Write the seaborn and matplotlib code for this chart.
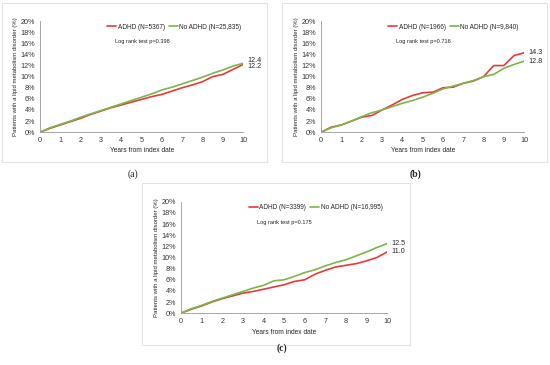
"""Cumulative incidence of lipid metabolism disorders, three cohorts."""

import matplotlib.pyplot as plt
import matplotlib.patches as mpatches
import pandas as pd
import seaborn as sns

years = [0, 0.5, 1, 1.5, 2, 2.5, 3, 3.5, 4, 4.5, 5, 5.5, 6, 6.5, 7, 7.5, 8, 8.5, 9, 9.5, 10]

adhd_a = [0, 0.7, 1.3, 1.9, 2.5, 3.2, 3.8, 4.4, 4.9, 5.4, 5.9, 6.4, 6.8, 7.4, 8.0, 8.5, 9.1, 10.0, 10.4, 11.3, 12.2]
noadhd_a = [0, 0.8, 1.4, 2.0, 2.7, 3.3, 3.9, 4.5, 5.1, 5.7, 6.3, 6.9, 7.6, 8.1, 8.7, 9.3, 9.9, 10.6, 11.2, 11.9, 12.4]

adhd_b = [0, 0.9, 1.3, 2.0, 2.7, 3.0, 4.0, 4.9, 5.9, 6.6, 7.1, 7.2, 8.0, 8.1, 8.8, 9.2, 10.0, 12.0, 12.0, 13.8, 14.3]
noadhd_b = [0, 0.8, 1.3, 2.0, 2.8, 3.5, 4.0, 4.6, 5.2, 5.7, 6.3, 7.0, 7.8, 8.3, 8.8, 9.3, 10.0, 10.4, 11.5, 12.2, 12.8]

adhd_c = [0, 0.7, 1.3, 2.0, 2.6, 3.1, 3.6, 3.9, 4.3, 4.7, 5.1, 5.7, 6.0, 7.0, 7.7, 8.3, 8.6, 8.9, 9.4, 10.0, 11.0]
noadhd_c = [0, 0.8, 1.4, 2.1, 2.7, 3.3, 3.9, 4.5, 5.0, 5.8, 6.0, 6.6, 7.3, 7.8, 8.5, 9.1, 9.6, 10.3, 11.0, 11.8, 12.5]

panels = {
    "a": dict(adhd=adhd_a, noadhd=noadhd_a, n_adhd="5367", n_no="25,835", p="0.398"),
    "b": dict(adhd=adhd_b, noadhd=noadhd_b, n_adhd="1966", n_no="9,840", p="0.716"),
    "c": dict(adhd=adhd_c, noadhd=noadhd_c, n_adhd="3399", n_no="16,995", p="0.175"),
}

RED = "#e8383d"
GREEN = "#7ab648"

sns.set_theme(style="white")
plt.rcParams["font.family"] = ["Liberation Sans", "DejaVu Sans"]

fig = plt.figure(figsize=(5.5, 3.65), dpi=100)

# panel frames and axes boxes (figure fractions)
frames = {"a": (0.004, 0.556, 0.482, 0.436),
          "b": (0.513, 0.556, 0.482, 0.436),
          "c": (0.258, 0.055, 0.487, 0.444)}
axes_pos = {"a": (0.073, 0.638, 0.369, 0.304),
            "b": (0.584, 0.638, 0.369, 0.304),
            "c": (0.329, 0.142, 0.375, 0.305)}
label_pos = {"a": (0.242, 0.523), "b": (0.755, 0.523), "c": (0.513, 0.046)}
label_bold = {"a": "normal", "b": "bold", "c": "bold"}

for key, d in panels.items():
    fx, fy, fw, fh = frames[key]
    fig.patches.append(mpatches.Rectangle((fx, fy), fw, fh, transform=fig.transFigure,
                                          fill=False, edgecolor="#e3e3e3", linewidth=0.8))
    ax = fig.add_axes(axes_pos[key])
    df = pd.DataFrame({"year": years * 2,
                       "pct": d["adhd"] + d["noadhd"],
                       "group": [f"ADHD (N={d['n_adhd']})"] * len(years)
                       + [f"No ADHD (N={d['n_no']})"] * len(years)})
    sns.lineplot(data=df, x="year", y="pct", hue="group", palette=[RED, GREEN],
                 linewidth=1.2, ax=ax)
    ax.set_xlim(0, 10)
    ax.set_ylim(0, 20)
    ax.set_xticks(range(0, 11))
    ax.set_yticks(range(0, 21, 2))
    ax.set_yticklabels([f"{v}%" for v in range(0, 21, 2)])
    ax.tick_params(labelsize=5.2, length=2, width=0.5, pad=1.5, colors="#333333")
    for s in ["top", "right"]:
        ax.spines[s].set_visible(False)
    for s in ["left", "bottom"]:
        ax.spines[s].set_color("#999999")
        ax.spines[s].set_linewidth(0.6)
    ax.set_xlabel("Years from index date", fontsize=4.8, labelpad=2.5)
    ax.set_ylabel("Patients with a lipid metabolism disorder (%)", fontsize=4.3, labelpad=2)
    ax.legend(loc="upper left", bbox_to_anchor=(0.3, 1.03), ncol=2, frameon=False,
              fontsize=4.7, handlelength=1.4, handletextpad=0.25, columnspacing=0.6)
    ax.text(0.37, 0.80, f"Log rank test p={d['p']}", transform=ax.transAxes, fontsize=4.1,
            color="#222222")
    a_end, g_end = d["adhd"][-1], d["noadhd"][-1]
    hi, lo = (a_end, g_end) if a_end > g_end else (g_end, a_end)
    off = 0.45 if hi - lo < 1 else 0
    ax.text(10.2, hi + off, f"{hi:.1f}", fontsize=5.2, va="center", clip_on=False)
    ax.text(10.2, lo - off, f"{lo:.1f}", fontsize=5.2, va="center", clip_on=False)
    lx, ly = label_pos[key]
    fig.text(lx, ly, f"({key})", fontsize=7, ha="center", va="center",
             family=["Liberation Serif", "DejaVu Serif"], fontweight=label_bold[key])

fig.savefig("out.png", dpi=100)
